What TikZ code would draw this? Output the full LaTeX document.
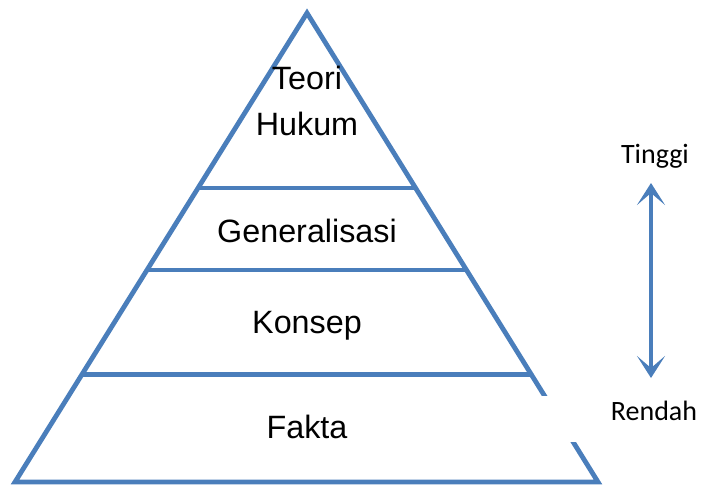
\documentclass[tikz,border=0pt]{standalone}
\usepackage{fontspec}
\setmainfont{Liberation Sans}
\newfontfamily\calib{Carlito}
\usetikzlibrary{arrows.meta,calc}
\definecolor{pyrblue}{HTML}{4A7EBB}
\tikzset{
  edge/.style={draw=pyrblue,line width=4.8pt,line join=miter},
  level/.style={draw=pyrblue,line width=4.8pt},
  lbl/.style={anchor=base,font=\fontsize{32.3}{36}\selectfont,inner sep=0pt},
  side/.style={anchor=base,font=\calib\fontsize{28}{30}\selectfont,inner sep=0pt},
  dbl/.style={draw=pyrblue,line width=4.8pt,{Stealth[length=22pt,width=28pt,inset=12pt]}-{Stealth[length=22pt,width=28pt,inset=12pt]}}
}
\begin{document}
\begin{tikzpicture}[x=1pt,y=-1pt]
\useasboundingbox (0,0) rectangle (701,485);
\coordinate (apex) at (307,13);
\coordinate (bl) at (15,482);
\coordinate (br) at (598,482);
\draw[edge] (apex) -- (bl) -- (br) -- cycle;
\draw[level] ($(apex)!0.373!(bl)$) -- ($(apex)!0.373!(br)$);
\draw[level] ($(apex)!0.548!(bl)$) -- ($(apex)!0.548!(br)$);
\draw[level] ($(apex)!0.770!(bl)$) -- ($(apex)!0.770!(br)$);
\fill[white] (540,396) rectangle (701,442);
\node[lbl] (teori) at (307,89) {Teori};
\node[lbl] (hukum) at (307,135) {Hukum};
\node[lbl] (gen) at (307,242) {Generalisasi};
\node[lbl] (konsep) at (307,333) {Konsep};
\node[lbl] (fakta) at (307,438) {Fakta};
\node[side] (tinggi) at (655,163) {Tinggi};
\node[side] (rendah) at (654,420) {Rendah};
\coordinate (atop) at (651,183);
\coordinate (abot) at (651,378);
\draw[dbl] (atop) -- (abot);
\end{tikzpicture}
\end{document}
